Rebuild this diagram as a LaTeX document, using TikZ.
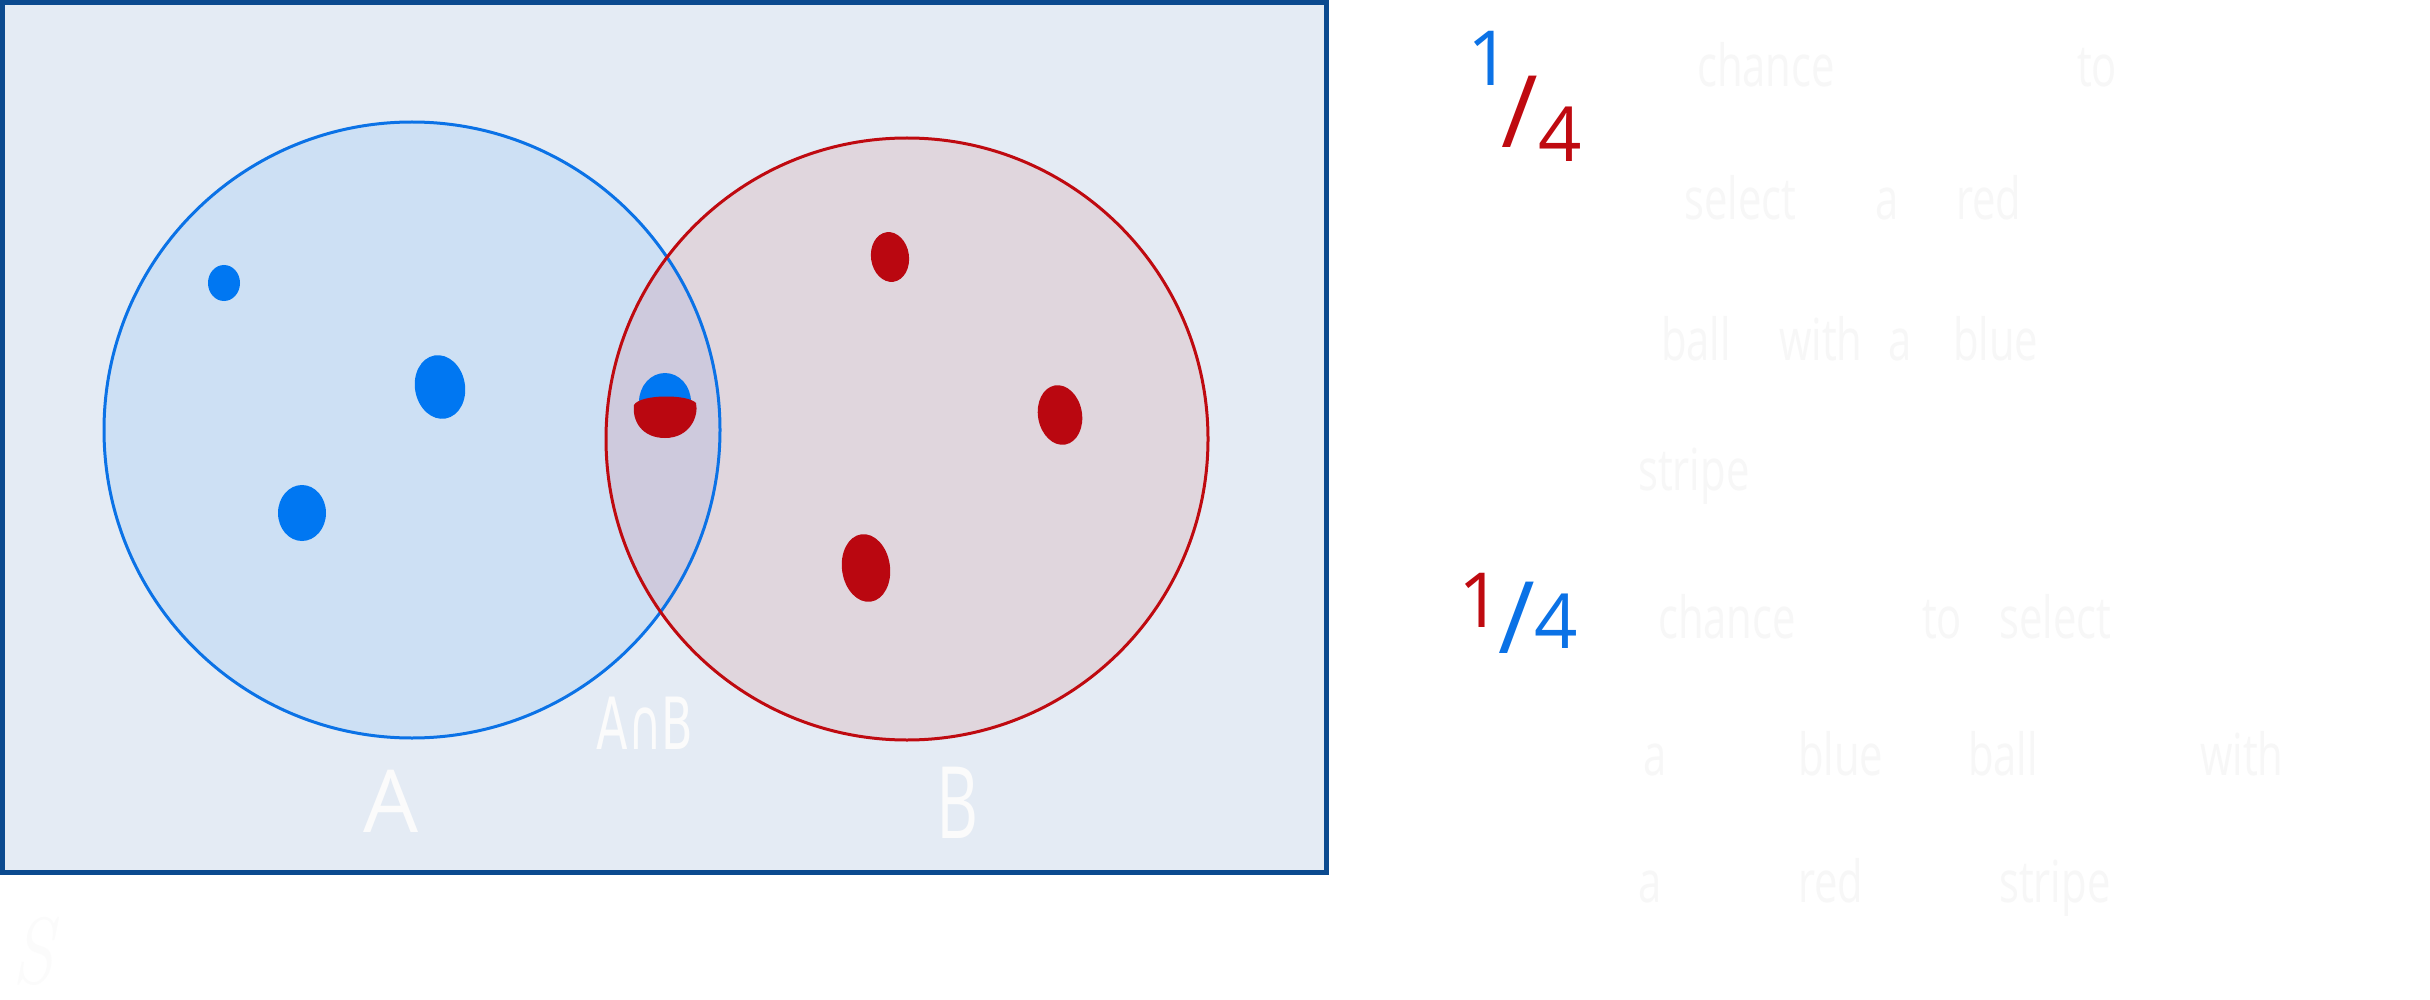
\documentclass[tikz,border=0pt]{standalone}
\usepackage{fontspec}
\newfontfamily\hand{Open Sans}
\newfontfamily\handsym{DejaVu Sans}
\definecolor{framecol}{HTML}{0B4A8F}
\definecolor{bgcol}{HTML}{E4EBF4}
\definecolor{afill}{HTML}{CDE0F4}
\definecolor{bfill}{HTML}{E0D6DD}
\definecolor{abfill}{HTML}{CECADD}
\definecolor{ablue}{HTML}{0B72E6}
\definecolor{bred}{HTML}{BF0A10}
\definecolor{dotblue}{HTML}{0077F2}
\definecolor{dotred}{HTML}{BA0710}
\definecolor{handwhite}{HTML}{FBFBFB}
\definecolor{handgray}{HTML}{F7F7F7}
\tikzset{
  word/.style={text=handgray, font=\hand\fontsize{58}{60}\selectfont, transform shape, xscale=0.72, inner sep=0pt, anchor=base west},
  label/.style={text=handwhite, inner sep=0pt, transform shape},
  frac/.style={inner sep=0pt, font=\hand\fontsize{76}{78}\selectfont},
  fracslash/.style={inner sep=0pt, font=\hand\fontsize{100}{102}\selectfont},
  setline/.style={line width=3pt},
}
\begin{document}
\begin{tikzpicture}[x=1pt,y=-1pt]
\useasboundingbox (0,0) rectangle (2430,1000);
\fill[white] (0,0) rectangle (2430,1000);
% universe
\fill[bgcol] (0,0) rectangle (1329,875);
% sets
\fill[afill] (412,430) circle[radius=308];
\fill[bfill] (907,439) circle[radius=301];
\begin{scope}
  \clip (412,430) circle[radius=308];
  \fill[abfill] (907,439) circle[radius=301];
\end{scope}
\draw[setline, ablue] (412,430) circle[radius=308];
\draw[setline, bred] (907,439) circle[radius=301];
\draw[framecol, line width=5pt] (2.5,2.5) rectangle (1326.5,872.5);
% blue balls
\fill[dotblue] (224,283) ellipse[x radius=16, y radius=18];
\fill[dotblue, rotate around={10:(440,387)}] (440,387) ellipse[x radius=25, y radius=32];
\fill[dotblue] (302,513) ellipse[x radius=24, y radius=28];
% red balls
\fill[dotred, rotate around={8:(890,257)}] (890,257) ellipse[x radius=19, y radius=25];
\fill[dotred, rotate around={10:(1060,415)}] (1060,415) ellipse[x radius=22, y radius=30];
\fill[dotred, rotate around={8:(866,568)}] (866,568) ellipse[x radius=24, y radius=34];
% shared ball
\fill[dotblue] (665,402) ellipse[x radius=26, y radius=29];
\fill[dotred] (634,405) .. controls (640,394) and (688,394) .. (696,403)
  .. controls (699,416) and (690,438) .. (665,438)
  .. controls (642,438) and (632,421) .. (634,405) -- cycle;
% set labels
\node[label, font=\hand\fontsize{87}{90}\selectfont] (labA) at (391,801) {A};
\node[label, font=\handsym\fontsize{72}{74}\selectfont, xscale=0.64] (labAB) at (645,723) {A∩B};
\node[label, font=\hand\fontsize{100}{102}\selectfont, xscale=0.65] (labB) at (958,803) {B};
\node[label, font=\itshape\fontsize{94}{96}\selectfont, xscale=0.8] (labS) at (33,951) {S};
% fractions
\node[frac, text=ablue] (f1n) at (1489,58) {\makebox[0.3em]{1}};
\node[fracslash, text=bred] (f1s) at (1520,112) {/};
\node[frac, text=bred] (f1d) at (1560,134) {4};
\node[frac, text=bred] (f2n) at (1480,600) {\makebox[0.3em]{1}};
\node[fracslash, text=ablue] (f2s) at (1517,618) {/};
\node[frac, text=ablue] (f2d) at (1556,621) {4};
% first description
\node[word] (t1) at (1697,87) {chance};
\node[word] (t2) at (2077,87) {to};
\node[word] (t3) at (1684,220) {select};
\node[word] (t4) at (1875,220) {a};
\node[word] (t5) at (1956,220) {red};
\node[word] (t6) at (1661,360) {ball};
\node[word] (t7) at (1779,360) {with};
\node[word] (t8) at (1888,360) {a};
\node[word] (t9) at (1953,360) {blue};
\node[word] (t10) at (1638,490) {stripe};
% second description
\node[word] (u1) at (1658,638) {chance};
\node[word] (u2) at (1922,638) {to};
\node[word] (u3) at (1999,638) {select};
\node[word] (u4) at (1643,775) {a};
\node[word] (u5) at (1798,775) {blue};
\node[word] (u6) at (1968,775) {ball};
\node[word] (u7) at (2200,775) {with};
\node[word] (u8) at (1638,902) {a};
\node[word] (u9) at (1798,902) {red};
\node[word] (u10) at (1999,902) {stripe};
\end{tikzpicture}
\end{document}
